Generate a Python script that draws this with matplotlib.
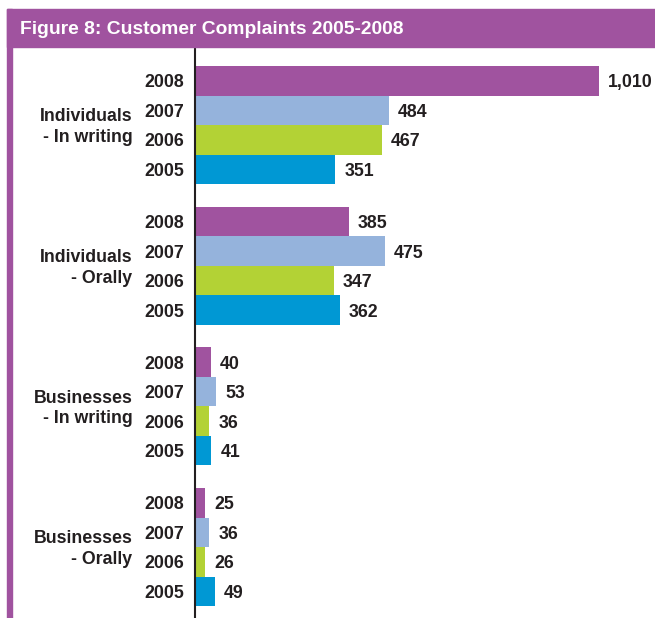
import matplotlib
matplotlib.use("Agg")
import matplotlib.pyplot as plt
from matplotlib.patches import Rectangle

plt.rcParams['font.family'] = ['Liberation Sans', 'DejaVu Sans']

# Data
groups = ["Individuals\n- In writing", "Individuals\n- Orally",
          "Businesses\n- In writing", "Businesses\n- Orally"]
years = ["2008", "2007", "2006", "2005"]
values = {
    "2008": [1010, 385, 40, 25],
    "2007": [484, 475, 53, 36],
    "2006": [467, 347, 36, 26],
    "2005": [351, 362, 41, 49],
}
year_colors = {"2008": "#a0539f", "2007": "#95b3dc",
               "2006": "#b3d235", "2005": "#0098d4"}
title = "Figure 8: Customer Complaints 2005-2008"

W, H = 655, 618
DPI = 100
fig = plt.figure(figsize=(W / DPI, H / DPI), dpi=DPI)
fig.patch.set_facecolor("white")

PURPLE = "#a0539f"
TEXT = "#231f20"
FS = 12.8

# Header band and left rule
fig.patches.append(Rectangle((7 / W, 1 - 47 / H), 1 - 7 / W, 38 / H,
                             transform=fig.transFigure, color=PURPLE, zorder=0))
fig.patches.append(Rectangle((7 / W, 0), 5 / W, 1 - 9 / H,
                             transform=fig.transFigure, color=PURPLE, zorder=0))
fig.text(20 / W, 1 - 29.5 / H, title, color="white", fontsize=13.9,
         fontweight="bold", ha="left", va="center")

# Plot area: from the axis line to the right edge, below the header
ax_left, ax_top = 195, 47
ax = fig.add_axes([ax_left / W, 0, 1 - ax_left / W, 1 - ax_top / H])
px_per_unit = 0.4
ax.set_xlim(0, (W - ax_left) / px_per_unit)

bar_px = 29.5
group_step = 4.77
y_top = -0.5 - (66 - ax_top) / bar_px
y_bottom = y_top + (H - ax_top) / bar_px
ax.set_ylim(y_bottom, y_top)

for gi, gname in enumerate(groups):
    for bi, yr in enumerate(years):
        pos = gi * group_step + bi
        v = values[yr][gi]
        ax.barh(pos, v, height=1.0, color=year_colors[yr], linewidth=0)
        ax.annotate(f"{v:,}", xy=(v, pos), xytext=(6.5, -1.5),
                    textcoords="offset points", ha="left", va="center",
                    fontsize=FS, fontweight="bold", color=TEXT)
        ax.annotate(yr, xy=(0, pos), xytext=(-7.5, -1.5),
                    xycoords=("axes fraction", "data"),
                    textcoords="offset points", ha="right", va="center",
                    fontsize=FS, fontweight="bold", color=TEXT)
    center = gi * group_step + 1.5
    ax.annotate(gname, xy=(0, center), xytext=(-45, -1.5),
                xycoords=("axes fraction", "data"),
                textcoords="offset points", ha="right", va="center",
                multialignment="right", fontsize=FS, fontweight="bold",
                color=TEXT, linespacing=1.3)

for s in ["top", "right", "bottom"]:
    ax.spines[s].set_visible(False)
ax.spines["left"].set_color("#231f20")
ax.spines["left"].set_linewidth(1.5)
ax.set_xticks([])
ax.set_yticks([])
ax.patch.set_alpha(0)

fig.savefig("out.png", dpi=DPI)
